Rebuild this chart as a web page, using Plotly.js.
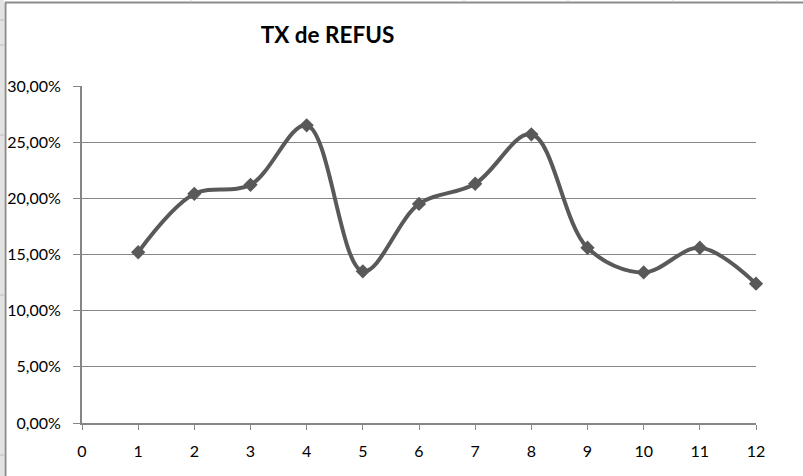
<!DOCTYPE html>
<html>
<head>
<meta charset="utf-8">
<script src="https://cdn.plot.ly/plotly-3.0.1.min.js"></script>
<style>
html,body{margin:0;padding:0;background:#fff;}
#chart{width:803px;height:476px;}
</style>
</head>
<body>
<div id="chart"></div>
<script>
// Data
const months = [1, 2, 3, 4, 5, 6, 7, 8, 9, 10, 11, 12];
const refusRate = [0.152, 0.204, 0.212, 0.265, 0.135, 0.195, 0.213, 0.257, 0.156, 0.134, 0.156, 0.124];
const yTickVals = [0, 0.05, 0.10, 0.15, 0.20, 0.25, 0.30];
const yTickText = ["0,00%", "5,00%", "10,00%", "15,00%", "20,00%", "25,00%", "30,00%"];
const chartTitle = "TX de REFUS";

const W = 803, H = 476;
const M = {l: 82, r: 47, t: 86, b: 53};
const pw = W - M.l - M.r, ph = H - M.t - M.b;
function px(x) { return (x - M.l) / pw; }
function py(y) { return (H - M.b - y) / ph; }

const shapes = [
  // spreadsheet row-header strip and chart frame
  {type: 'rect', xref: 'paper', yref: 'paper', x0: px(0), x1: px(4), y0: py(476), y1: py(0), fillcolor: '#e3e3e3', line: {width: 0}, layer: 'below'},
  {type: 'line', xref: 'paper', yref: 'paper', x0: px(5.5), x1: px(5.5), y0: py(476), y1: py(2.5), line: {color: '#8c8c8c', width: 2}},
  {type: 'line', xref: 'paper', yref: 'paper', x0: px(5), x1: px(803), y0: py(2.5), y1: py(2.5), line: {color: '#8c8c8c', width: 2}}
];
[191, 464, 568, 673, 777].forEach(function (x) {
  shapes.push({type: 'line', xref: 'paper', yref: 'paper', x0: px(x), x1: px(x), y0: py(0), y1: py(2), line: {color: '#d0d0d0', width: 1}});
});
[20, 45, 135, 295, 455].forEach(function (y) {
  shapes.push({type: 'line', xref: 'paper', yref: 'paper', x0: px(0), x1: px(4), y0: py(y), y1: py(y), line: {color: '#bdbdbd', width: 1}});
});

const trace = {
  x: months,
  y: refusRate,
  type: 'scatter',
  mode: 'lines+markers',
  cliponaxis: false,
  line: {color: '#595959', width: 4, shape: 'spline', smoothing: 1},
  marker: {symbol: 'diamond', size: 11, color: '#595959'},
  hoverinfo: 'skip'
};

const layout = {
  width: W, height: H,
  margin: M,
  paper_bgcolor: '#ffffff',
  plot_bgcolor: '#ffffff',
  showlegend: false,
  font: {family: 'Lato, "Open Sans", sans-serif', size: 16, color: '#000'},
  title: {
    text: '<b>' + chartTitle + '</b>',
    font: {family: 'Lato, sans-serif', size: 22.5, color: '#000'},
    x: (327.5) / W, xanchor: 'center',
    y: 1 - 35 / H, yanchor: 'middle'
  },
  xaxis: {
    range: [0, 12],
    tickmode: 'linear', tick0: 0, dtick: 1,
    ticks: 'outside', ticklen: 5, tickcolor: '#868686', tickwidth: 1,
    showgrid: false, zeroline: false,
    showline: true, linecolor: '#868686', linewidth: 2,
    tickfont: {family: 'Lato, sans-serif', size: 16, color: '#000'},
    ticklabelstandoff: 8,
    fixedrange: true
  },
  yaxis: {
    range: [0, 0.30],
    tickvals: yTickVals, ticktext: yTickText,
    ticks: 'outside', ticklen: 7, tickcolor: '#868686', tickwidth: 1,
    showgrid: true, gridcolor: '#868686', gridwidth: 1,
    zeroline: false,
    showline: true, linecolor: '#868686', linewidth: 2,
    tickfont: {family: 'Lato, sans-serif', size: 16, color: '#000'},
    ticklabelstandoff: 9,
    fixedrange: true
  },
  shapes: shapes
};

Plotly.newPlot('chart', [trace], layout, {displayModeBar: false, staticPlot: true});
</script>
</body>
</html>
